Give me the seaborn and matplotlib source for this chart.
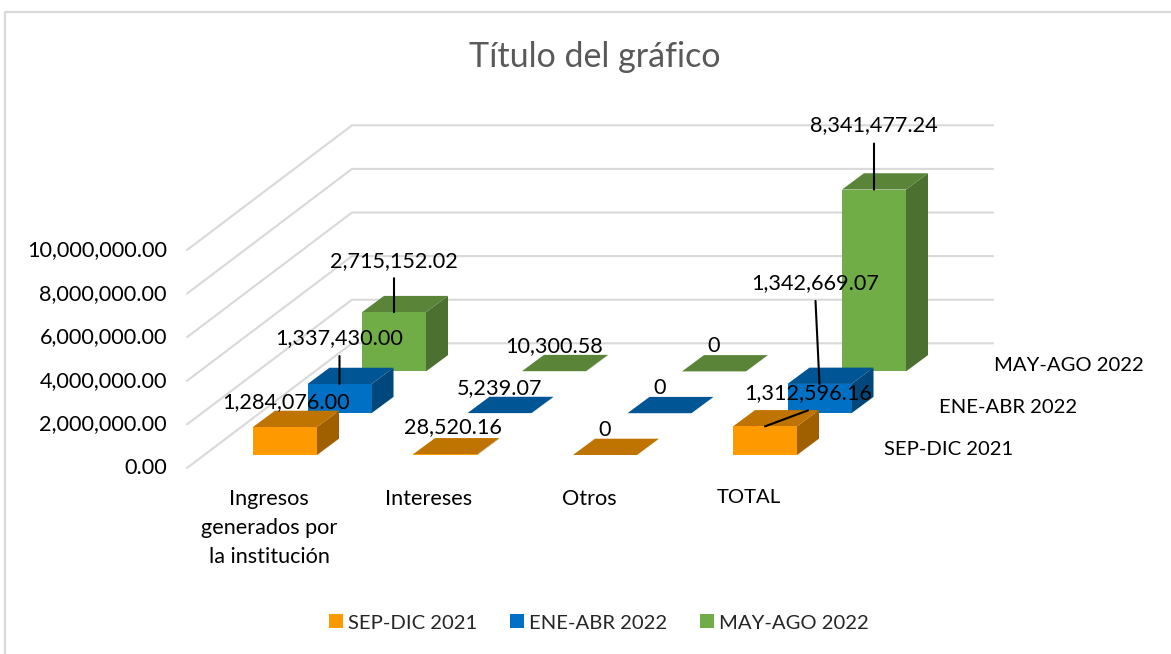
# Excel style 3D column chart, drawn as an oblique projection
import matplotlib
matplotlib.use("Agg")
import matplotlib.pyplot as plt
from matplotlib.lines import Line2D
from matplotlib.patches import Polygon
import seaborn as sns

# data
categories = ["Ingresos\ngenerados por\nla institución", "Intereses", "Otros", "TOTAL"]
series_names = ["SEP-DIC 2021", "ENE-ABR 2022", "MAY-AGO 2022"]
sep_dic_2021 = [1284076.00, 28520.16, 0, 1312596.16]
ene_abr_2022 = [1337430.00, 5239.07, 0, 1342669.07]
may_ago_2022 = [2715152.02, 10300.58, 0, 8341477.24]
value_labels = [
    ["1,284,076.00", "28,520.16", "0", "1,312,596.16"],
    ["1,337,430.00", "5,239.07", "0", "1,342,669.07"],
    ["2,715,152.02", "10,300.58", "0", "8,341,477.24"],
]
axis_ticks = [0, 2000000, 4000000, 6000000, 8000000, 10000000]

series_values = [sep_dic_2021, ene_abr_2022, may_ago_2022]

# colours: front, top, side
face_colors = ["#FF9900", "#0070C5", "#70AD47"]
top_colors = ["#BF7300", "#005594", "#5A8538"]
side_colors = ["#A06000", "#00487C", "#4B7030"]
grid_color = "#D9D9D9"

W, H = 1171, 654
FONT = "Lato"
LABEL_SIZE = 15.6
CAPS_SIZE = 14.6    # Lato capitals run wide, so upper case text gets a bit less

# scale of the picture
CAT_PX = 160.0      # pixels per category
VAL_PX = 21.8e-6    # pixels per unit of value
X0, Y0 = 285.0, 455.0  # centre and floor of first bar, in pixels


def px(x, y):
    # pixel position to data position
    return (x - X0) / CAT_PX, (Y0 - y) / VAL_PX


def offset(dx, dy):
    # pixel distance to data distance (dy upwards)
    return dx / CAT_PX, dy / VAL_PX


SER_DX, SER_DY = offset(54.5, 41.8)   # from one series to the next
BAR_DX, BAR_DY = offset(22, 16.3)     # depth of one bar
BAR_W = 0.4

sns.set_theme(style="white")
plt.rcParams["font.family"] = [FONT, "DejaVu Sans"]

fig, ax = plt.subplots(figsize=(W / 100, H / 100), dpi=100)
fig.subplots_adjust(left=0, right=1, bottom=0, top=1)

# walls
wall_fx, wall_fy = px(187, 468)
wall_bx, wall_by = px(352, 343.3)
wall_rx, _ = px(993, 0)
for t in axis_ticks:
    ax.plot([wall_fx, wall_bx, wall_rx], [wall_fy + t, wall_by + t, wall_by + t],
            color=grid_color, lw=1.5, solid_joinstyle="miter", zorder=0.5)

# bars, back series first
for s in [2, 1, 0]:
    x_pos = [c + s * SER_DX for c in range(len(categories))]
    base = s * SER_DY
    for x, v in zip(x_pos, series_values[s]):
        left, right = x - BAR_W / 2, x + BAR_W / 2
        ax.add_patch(Polygon([(right, base), (right + BAR_DX, base + BAR_DY),
                              (right + BAR_DX, base + v + BAR_DY), (right, base + v)],
                             closed=True, fc=side_colors[s], ec="none"))
        ax.add_patch(Polygon([(left, base + v), (left + BAR_DX, base + v + BAR_DY),
                              (right + BAR_DX, base + v + BAR_DY), (right, base + v)],
                             closed=True, fc=top_colors[s], ec="none"))
    sns.barplot(x=x_pos, y=series_values[s], bottom=base, native_scale=True, width=BAR_W,
                color=face_colors[s], saturation=1, linewidth=0, errorbar=None,
                label=series_names[s], ax=ax)

# data labels: pixel offset of label from the bar (down is positive), end of the leader line
label_pos = {
    (0, 0): (1, -25, None), (0, 1): (8, -27, None), (0, 3): (43, -33, (43, 16)),
    (1, 0): (0, -46, (0, 28)), (1, 3): (-4, -101, (-4, 83)),
    (2, 0): (0, -51, (0, 34)), (2, 3): (0, -64, (0, 46)),
}
for s, vals in enumerate(series_values):
    for c, v in enumerate(vals):
        bx = c + s * SER_DX
        by = s * SER_DY + v
        dx, dy, lead = label_pos.get((s, c), (0, -25, None))
        if lead is not None:
            ax.annotate("", xy=(bx, by), xytext=lead, textcoords="offset pixels",
                        arrowprops=dict(arrowstyle="-", color="black", lw=1.5,
                                        shrinkA=0, shrinkB=0), zorder=4)
        ax.annotate(value_labels[s][c], xy=(bx, by), xytext=(dx, -dy), textcoords="offset pixels",
                    ha="center", va="center", fontsize=LABEL_SIZE, color="black", zorder=5)

# value axis labels
for t in axis_ticks:
    lx, ly = px(167, 468)
    ax.text(lx, ly + t, f"{t:,.2f}", ha="right", va="center", fontsize=LABEL_SIZE, color="black")

# category labels
for c, name in enumerate(categories):
    lx, ly = px(X0 + c * CAT_PX - 16, 489)
    ax.text(lx, ly, name, ha="center", va="top", color="black", linespacing=1.55,
            fontsize=CAPS_SIZE if name.isupper() else LABEL_SIZE)

# series labels on depth axis
for s, name in enumerate(series_names):
    lx, ly = px(884 + s * 55, 449.5 - s * 42)
    ax.text(lx, ly, name, ha="left", va="center", fontsize=CAPS_SIZE, color="black")

tx, ty = px(595, 57.5)
ax.text(tx, ty, "Título del gráfico", ha="center", va="center", fontsize=24.5, color="#595959")

# legend
handles, labels = ax.get_legend_handles_labels()
order = [labels.index(n) for n in series_names]
ax.legend([handles[i] for i in order], [labels[i] for i in order], ncol=3, frameon=False,
          loc="center", bbox_to_anchor=(599 / W, 1 - 623 / H), bbox_transform=fig.transFigure,
          fontsize=CAPS_SIZE, handlelength=0.69, handleheight=0.69, handletextpad=0.25,
          columnspacing=1.63)

# chart border (top and left are inside the picture)
fig.add_artist(Line2D([5 / W, 5 / W, 1], [0, 1 - 12 / H, 1 - 12 / H], color=grid_color, lw=1.6))

ax.set_xlim(-X0 / CAT_PX, (W - X0) / CAT_PX)
ax.set_ylim((Y0 - H) / VAL_PX, Y0 / VAL_PX)
ax.set_axis_off()

fig.savefig("out.png", dpi=100)
